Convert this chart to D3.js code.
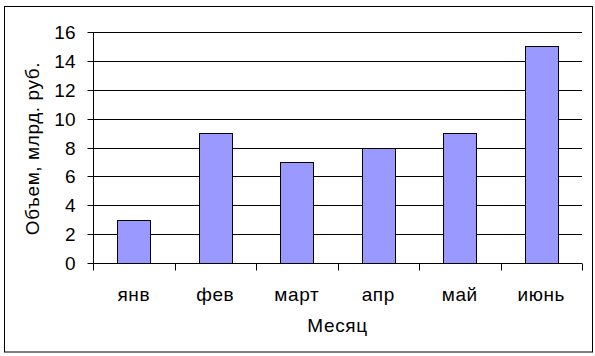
<!DOCTYPE html>
<html>
<head>
<meta charset="utf-8">
<script src="https://cdn.jsdelivr.net/npm/d3@7"></script>
<style>
  body { margin: 0; background: #fff; }
  svg { display: block; font-family: "Liberation Sans", Arial, sans-serif; }
  .axis path, .axis line { stroke: #000; }
  .axis text { fill: #000; font-size: 19px; }
  .axis text.lbl, .title { font-size: 19px; letter-spacing: 0.6px; }
</style>
</head>
<body>
<svg width="595" height="356"></svg>
<script>
// Data
const months = ["янв", "фев", "март", "апр", "май", "июнь"];
const volumes = [3, 9, 7, 8, 9, 15];
const yTicks = [0, 2, 4, 6, 8, 10, 12, 14, 16];

const svg = d3.select("svg"),
    margin = { top: 32, right: 13, bottom: 93, left: 93 },
    width = +svg.attr("width") - margin.left - margin.right,
    height = +svg.attr("height") - margin.top - margin.bottom;

// Outer chart border
svg.append("rect")
    .attr("x", 4.5).attr("y", 6.5)
    .attr("width", 588).attr("height", 345.5)
    .attr("fill", "#fff")
    .attr("stroke", "#000")
    .attr("stroke-width", 1);

const g = svg.append("g").attr("transform", `translate(${margin.left},${margin.top})`);

const x = d3.scaleBand()
    .domain(months)
    .range([0, width])
    .paddingInner(0.6)
    .paddingOuter(0.3);

// Category band (no padding) for the tick marks between categories
const xCat = d3.scaleBand().domain(months).range([0, width]);

const y = d3.scaleLinear()
    .domain([0, 16])
    .range([height, 0]);

// Gridlines
g.append("g")
    .selectAll("line")
    .data(yTicks.filter(d => d > 0))
    .enter().append("line")
    .attr("x1", 0)
    .attr("x2", width)
    .attr("y1", d => Math.round(y(d)) + 0.5)
    .attr("y2", d => Math.round(y(d)) + 0.5)
    .attr("stroke", "#000");

// Bars
g.selectAll(".bar")
    .data(months)
    .enter().append("rect")
    .attr("class", "bar")
    .attr("x", d => Math.round(x(d)) + 0.5)
    .attr("y", (d, i) => Math.round(y(volumes[i])) + 0.5)
    .attr("width", Math.round(x.bandwidth()))
    .attr("height", (d, i) => Math.round(y(0)) - Math.round(y(volumes[i])))
    .attr("fill", "#9999FF")
    .attr("stroke", "#000");

// Y axis
const yAxis = g.append("g")
    .attr("class", "axis")
    .attr("transform", "translate(0.5,0)")
    .call(d3.axisLeft(y).tickValues(yTicks).tickSize(6).tickPadding(12));
yAxis.selectAll(".tick").attr("transform", d => `translate(0,${Math.round(y(d)) + 0.5})`);
yAxis.select(".domain").attr("d", `M0,0.5V${Math.round(height) + 0.5}`);

// X axis with ticks at category boundaries
const xAxis = g.append("g")
    .attr("class", "axis")
    .attr("transform", `translate(0,${Math.round(height) + 0.5})`);
xAxis.append("line")
    .attr("x1", 0).attr("x2", width)
    .attr("stroke", "#000");
xAxis.selectAll(".bound")
    .data(d3.range(months.length + 1))
    .enter().append("line")
    .attr("x1", i => Math.round(i * xCat.step()) + 0.5)
    .attr("x2", i => Math.round(i * xCat.step()) + 0.5)
    .attr("y1", 0).attr("y2", 7)
    .attr("stroke", "#000");
xAxis.selectAll(".lbl")
    .data(months)
    .enter().append("text")
    .attr("class", "lbl")
    .attr("x", d => xCat(d) + xCat.bandwidth() / 2)
    .attr("y", 37)
    .attr("text-anchor", "middle")
    .text(d => d);

// Axis titles
svg.append("text")
    .attr("class", "title")
    .attr("x", margin.left + width / 2)
    .attr("y", 332)
    .attr("text-anchor", "middle")
    .text("Месяц");

svg.append("text")
    .attr("class", "title")
    .attr("transform", `translate(39,${margin.top + height / 2 + 1}) rotate(-90)`)
    .attr("text-anchor", "middle")
    .text("Объем, млрд. руб.");
</script>
</body>
</html>
